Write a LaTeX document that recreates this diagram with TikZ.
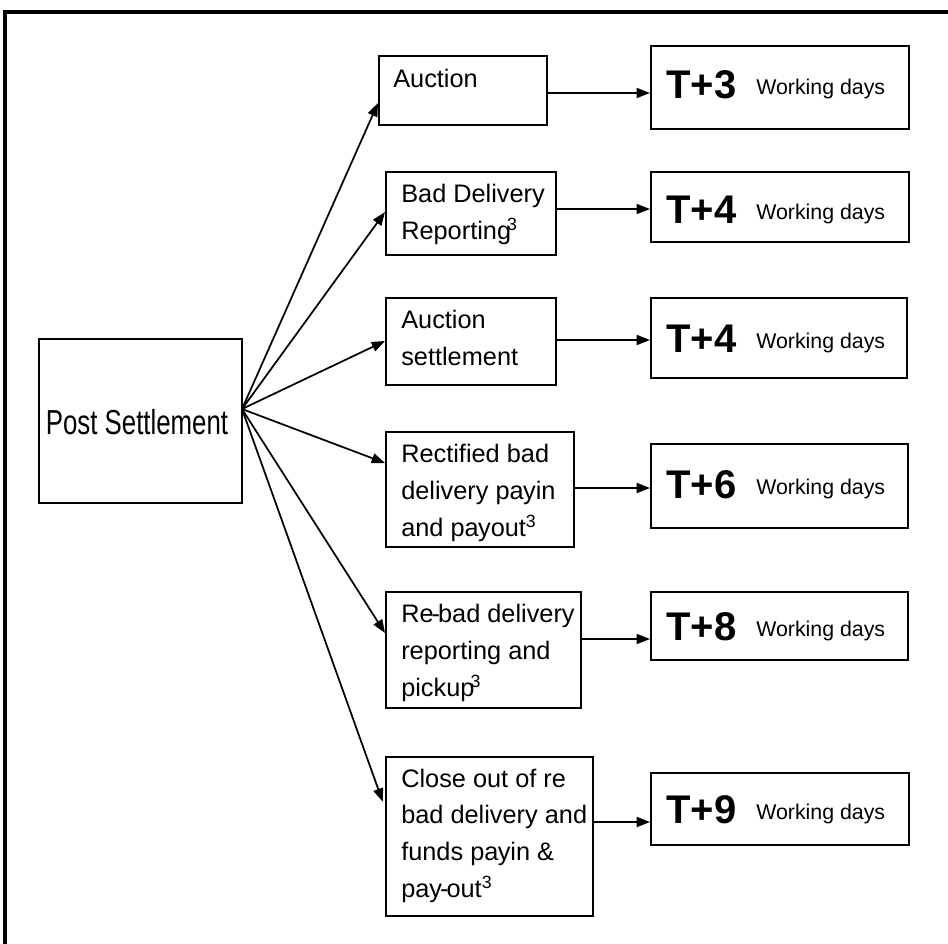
\documentclass[tikz,border=0pt]{standalone}
\usepackage{fontspec}
\setmainfont{Liberation Sans}
\usepackage{graphicx}
\usetikzlibrary{arrows.meta,fit}
\begin{document}
\begin{tikzpicture}[x=0.75pt,y=-0.75pt,
  box/.style={draw, line width=1.5pt, inner sep=0pt},
  arr/.style={line width=1.3pt, -{Triangle[length=10pt,width=7.5pt]}},
  ltext/.style={anchor=base west, align=left, inner sep=0pt, font=\fontsize{19}{27.4}\selectfont},
  tbig/.style={anchor=base west, inner sep=0pt, font=\fontsize{30}{34}\selectfont\bfseries},
  wdays/.style={anchor=base west, inner sep=0pt, font=\fontsize{16}{18}\selectfont}]
\useasboundingbox (0,0) rectangle (948,943);
\clip (0,0) rectangle (948,943);
% outer frame (cut at right and bottom)
\draw[line width=2.4pt] (5,12) rectangle (980,980);

% Post Settlement
\node[box, fit={(39,339) (242,503)}] (ps) {};
\node[inner sep=0pt] (pst) at (137,422) {\scalebox{0.745}[1]{\fontsize{26}{30}\selectfont Post Settlement}};
\coordinate (fan) at (242,409);

% middle boxes
\node[box, fit={(379,56) (547,125)}] (a1) {};
\node[box, fit={(386,172) (556,255)}] (a2) {};
\node[box, fit={(386,298) (556,385)}] (a3) {};
\node[box, fit={(386,432) (574,547)}] (a4) {};
\node[box, fit={(386,592) (581,708)}] (a5) {};
\node[box, fit={(386,757) (593,916)}] (a6) {};

% (anchor = baseline of the last line)
\node[ltext] (t1) at (393,87) {Auction};
\node[ltext] (t2) at (401,239) {Bad Delivery\\Reporting\kern-3pt\textsuperscript{3}};
\node[ltext] (t3) at (401,365) {Auction\\settlement};
\node[ltext] (t4) at (401,536) {Rectified bad\\delivery pa\kern-0.5pt yin\\and pa\kern-0.5pt yout\textsuperscript{3}};
\node[ltext] (t5) at (401,696) {Re\kern-1.5pt-\kern-1.5pt bad delivery\\reporting and\\pickup\kern-3pt\textsuperscript{3}};
\node[ltext] (t6) at (401,897) {Close out of re\\bad delivery and\\funds pa\kern-0.5pt yin \&\\pay\kern-1.5pt-\kern-1.5pt out\textsuperscript{3}};

% right boxes
\node[box, fit={(651,46) (909,129)}] (r1) {};
\node[box, fit={(651,172) (909,242)}] (r2) {};
\node[box, fit={(651,298) (907,378)}] (r3) {};
\node[box, fit={(651,444) (908,528)}] (r4) {};
\node[box, fit={(651,592) (908,660)}] (r5) {};
\node[box, fit={(651,773) (909,845)}] (r6) {};

\node[tbig] (d1) at (666,98) {T+3};
\node[tbig] (d2) at (666,223) {T+4};
\node[tbig] (d3) at (666,352) {T+4};
\node[tbig] (d4) at (666,498) {T+6};
\node[tbig] (d5) at (666,640) {T+8};
\node[tbig] (d6) at (666,823) {T+9};
\node[wdays] (w1) at (756,94) {Working days};
\node[wdays] (w2) at (756,219) {Working days};
\node[wdays] (w3) at (756,348) {Working days};
\node[wdays] (w4) at (756,494) {Working days};
\node[wdays] (w5) at (756,636) {Working days};
\node[wdays] (w6) at (756,819) {Working days};

% fan arrows
\draw[arr] (fan) -- (a1.west |- 0,103);
\draw[arr] (fan) -- (a2.west |- 0,212);
\draw[arr] (fan) -- (a3.west |- 0,341);
\draw[arr] (fan) -- (a4.west |- 0,463);
\draw[arr] (fan) -- (a5.west |- 0,633);
\draw[arr, shorten >=5pt] (fan) -- (a6.west |- 0,808);

% horizontal arrows
\draw[arr] (a1.east |- 0,93) -- (r1.west |- 0,93);
\draw[arr] (a2.east |- 0,209) -- (r2.west |- 0,209);
\draw[arr] (a3.east |- 0,340) -- (r3.west |- 0,340);
\draw[arr] (a4.east |- 0,488) -- (r4.west |- 0,488);
\draw[arr] (a5.east |- 0,639) -- (r5.west |- 0,639);
\draw[arr] (a6.east |- 0,822) -- (r6.west |- 0,822);
\end{tikzpicture}
\end{document}
